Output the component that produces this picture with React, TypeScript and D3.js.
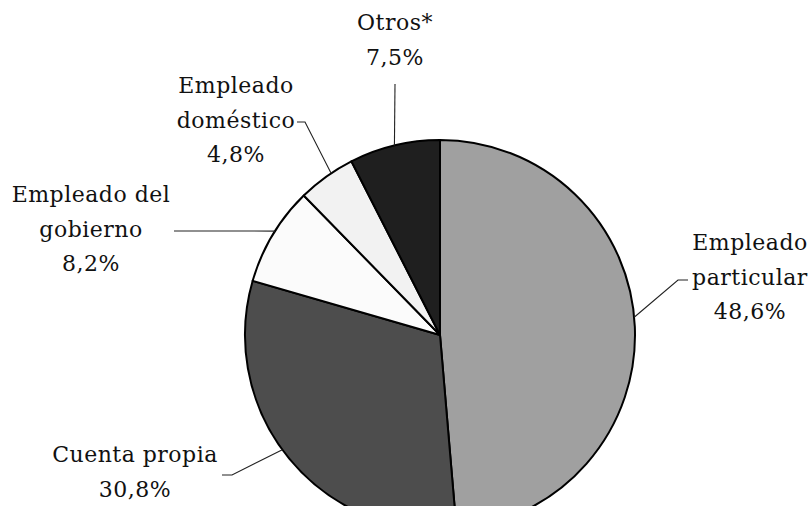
import React from "react";
import * as d3 from "d3";

const categories = ["Empleado particular", "Cuenta propia", "Empleado del gobierno", "Empleado doméstico", "Otros*"];
const values = [48.6, 30.8, 8.2, 4.8, 7.5];
const valueLabels = ["48,6%", "30,8%", "8,2%", "4,8%", "7,5%"];
const labelLines = [
  ["Empleado", "particular"],
  ["Cuenta propia"],
  ["Empleado del", "gobierno"],
  ["Empleado", "doméstico"],
  ["Otros*"],
];
const colors = ["#a0a0a0", "#4d4d4d", "#fbfbfb", "#f2f2f2", "#1f1f1f"];

// layout: label centre x, first baseline y, leader start points, anchor fraction within slice
const layout = [
  { x: 750, y: 250, leader: [[688, 280], [678, 280]], frac: 0.484 },
  { x: 135, y: 462, leader: [[222, 475], [232, 475]], frac: 0.53 },
  { x: 91, y: 202, leader: [[174, 231]], frac: 0.544 },
  { x: 236, y: 93, leader: [[297, 122], [305, 122]], frac: 0.6 },
  { x: 395, y: 30, leader: [[395, 84]], frac: 0.5 },
];

const W = 811;
const H = 506;
const cx = 440;
const cy = 335;
const R = 195;
const lineH = 34.5;

export default function App() {
  const pie = d3.pie<number>().sort(null).value((d) => d).startAngle(0).endAngle(2 * Math.PI);
  const arcs = pie(values);
  const arc = d3.arc<d3.PieArcDatum<number>>().innerRadius(0).outerRadius(R);
  const line = d3.line();

  return (
    <svg
      width={W}
      height={H}
      style={{ position: "fixed", left: 0, top: 0, background: "#fff" }}
      fontFamily="'DejaVu Serif', serif"
      fontSize={22}
    >
      <rect width={W} height={H} fill="#fff" />
      <g transform={`translate(${cx},${cy})`}>
        {arcs.map((a, i) => (
          <path key={categories[i]} d={arc(a) || ""} fill={colors[i]} stroke="#000" strokeWidth={2} strokeLinejoin="round" />
        ))}
      </g>
      {arcs.map((a, i) => {
        const L = layout[i];
        const ang = a.startAngle + (a.endAngle - a.startAngle) * L.frac;
        const ax = cx + R * Math.sin(ang);
        const ay = cy - R * Math.cos(ang);
        const pts = [...L.leader, [ax, ay]] as [number, number][];
        return <path key={"l" + i} d={line(pts) || ""} fill="none" stroke="#222" strokeWidth={1.1} />;
      })}
      {labelLines.map((lines, i) => {
        const L = layout[i];
        const all = [...lines, valueLabels[i]];
        return (
          <text key={"t" + i} textAnchor="middle" fill="#111" letterSpacing={0.5}>
            {all.map((s, j) => (
              <tspan key={j} x={L.x} y={L.y + j * lineH}>
                {s}
              </tspan>
            ))}
          </text>
        );
      })}
    </svg>
  );
}
